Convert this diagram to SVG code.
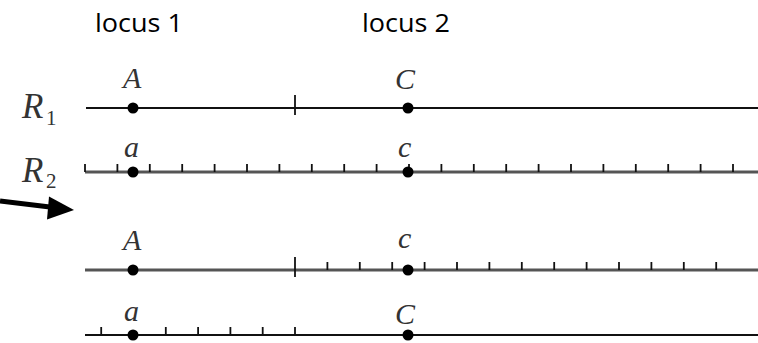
<svg xmlns="http://www.w3.org/2000/svg" width="758" height="343" viewBox="0 0 758 343">
  <style>
    .head { font-family: "Open Sans", "Liberation Sans", sans-serif; font-size: 25px; fill: #000; }
    .sym { font-family: "Liberation Serif", "DejaVu Serif", serif; font-style: italic; font-size: 30px; fill: #333; }
    .rname { font-family: "Liberation Serif", "DejaVu Serif", serif; font-style: italic; font-size: 35px; fill: #333; }
    .sub { font-family: "Liberation Serif", "DejaVu Serif", serif; font-size: 21px; fill: #333; }
    .dark { stroke: #111; stroke-width: 2; fill: none; }
    .grey { stroke: #555; stroke-width: 3; fill: none; }
    .tick { stroke: #111; stroke-width: 1.8; fill: none; }
    .dot { fill: #000; }
  </style>
  <defs>
    <path id="t" class="tick" d="M0,0 V-8"/>
    <path id="tall" class="tick" d="M0,-13 V7"/>
  </defs>

  <!-- column headings -->
  <text class="head" x="95" y="32" textLength="88" lengthAdjust="spacingAndGlyphs">locus 1</text>
  <text class="head" x="362" y="32" textLength="88" lengthAdjust="spacingAndGlyphs">locus 2</text>

  <!-- chromosome names -->
  <g id="name-r1">
    <text class="rname" x="22" y="118">R</text>
    <text class="sub" x="46" y="125">1</text>
  </g>
  <g id="name-r2">
    <text class="rname" x="22" y="182">R</text>
    <text class="sub" x="46" y="188">2</text>
  </g>

  <!-- R1: sparse markers -->
  <g id="r1">
    <line class="dark" x1="86" y1="108" x2="758" y2="108"/>
    <use href="#tall" x="295" y="108"/>
    <circle class="dot" cx="133" cy="108" r="5.5"/>
    <circle class="dot" cx="408" cy="108" r="5.5"/>
    <text class="sym" x="123" y="88">A</text>
    <text class="sym" x="395" y="89">C</text>
  </g>

  <!-- R2: dense markers -->
  <g id="r2">
    <line class="grey" x1="85" y1="172" x2="758" y2="172"/>
    <g transform="translate(0,172)">
      <use href="#t" x="85"/><use href="#t" x="117.4"/><use href="#t" x="149.8"/>
      <use href="#t" x="182.2"/><use href="#t" x="214.6"/><use href="#t" x="247"/>
      <use href="#t" x="279.4"/><use href="#t" x="311.8"/><use href="#t" x="344.2"/>
      <use href="#t" x="376.6"/><use href="#t" x="409"/><use href="#t" x="441.4"/>
      <use href="#t" x="473.8"/><use href="#t" x="506.2"/><use href="#t" x="538.6"/>
      <use href="#t" x="571"/><use href="#t" x="603.4"/><use href="#t" x="635.8"/>
      <use href="#t" x="668.2"/><use href="#t" x="700.6"/><use href="#t" x="733"/>
    </g>
    <circle class="dot" cx="133" cy="172" r="5.5"/>
    <circle class="dot" cx="408" cy="172" r="5.5"/>
    <text class="sym" x="124" y="157">a</text>
    <text class="sym" x="398" y="157">c</text>
  </g>

  <!-- recombination arrow -->
  <g id="arrow">
    <line x1="0" y1="201" x2="54" y2="207.5" stroke="#000" stroke-width="5"/>
    <polygon points="74,210 49,196.5 47,219.5" fill="#000"/>
  </g>

  <!-- recombinant 1: A with c -->
  <g id="rec1">
    <line class="grey" x1="85" y1="270" x2="758" y2="270"/>
    <use href="#tall" x="295" y="270"/>
    <g transform="translate(0,270)">
      <use href="#t" x="327.4"/><use href="#t" x="359.8"/><use href="#t" x="392.2"/>
      <use href="#t" x="424.6"/><use href="#t" x="457"/><use href="#t" x="489.4"/>
      <use href="#t" x="521.8"/><use href="#t" x="554.2"/><use href="#t" x="586.6"/>
      <use href="#t" x="619"/><use href="#t" x="651.4"/><use href="#t" x="683.8"/>
      <use href="#t" x="716.2"/>
    </g>
    <circle class="dot" cx="133" cy="270" r="5.5"/>
    <circle class="dot" cx="408" cy="270" r="5.5"/>
    <text class="sym" x="123" y="250">A</text>
    <text class="sym" x="398" y="248">c</text>
  </g>

  <!-- recombinant 2: a with C -->
  <g id="rec2">
    <line class="dark" x1="85" y1="335" x2="758" y2="335"/>
    <g transform="translate(0,335)">
      <use href="#t" x="101.2"/><use href="#t" x="165.8"/><use href="#t" x="198.1"/>
      <use href="#t" x="230.4"/><use href="#t" x="262.7"/><use href="#t" x="295"/>
    </g>
    <circle class="dot" cx="133" cy="335" r="5.5"/>
    <circle class="dot" cx="408" cy="335" r="5.5"/>
    <text class="sym" x="124" y="321">a</text>
    <text class="sym" x="395" y="324">C</text>
  </g>
</svg>
